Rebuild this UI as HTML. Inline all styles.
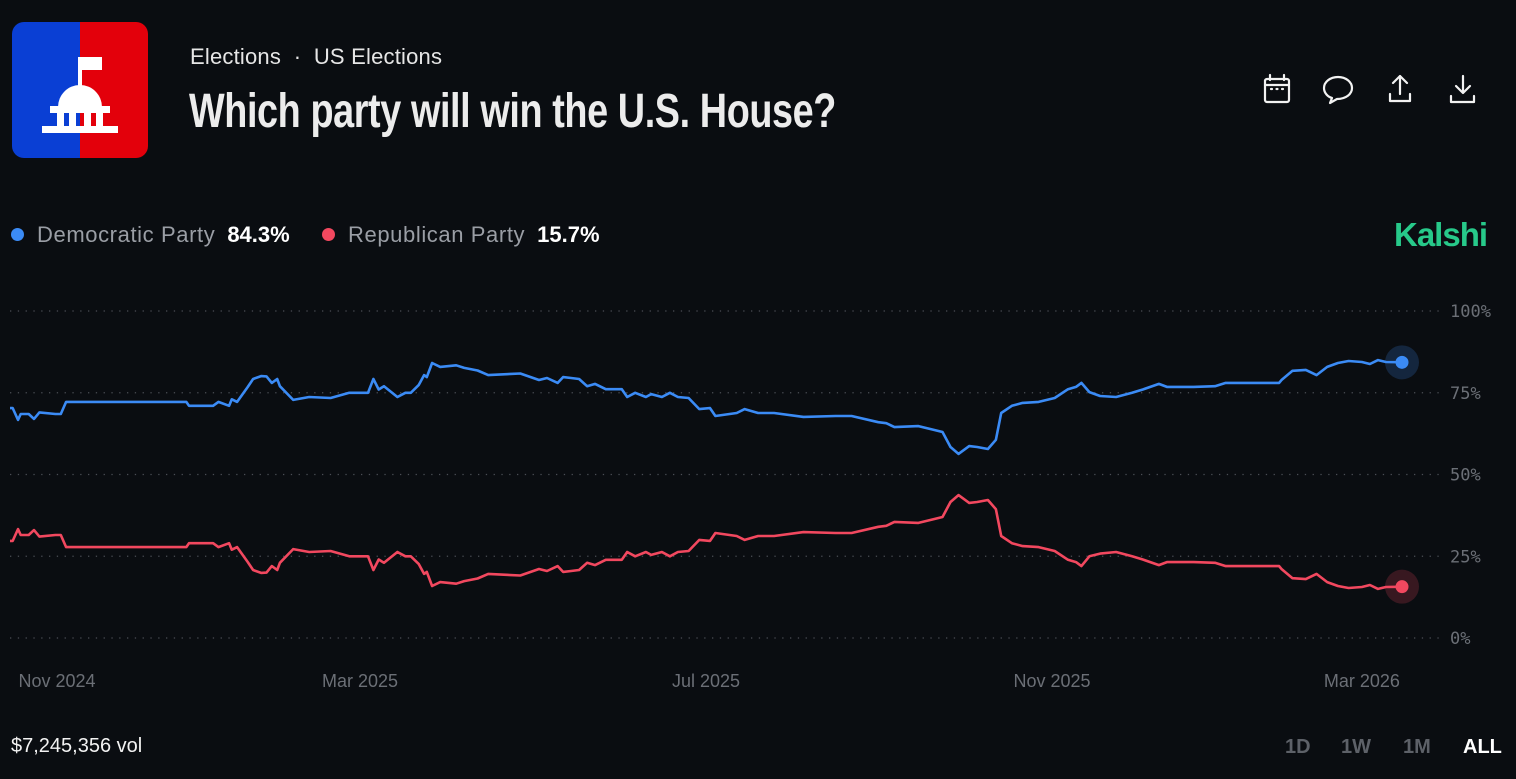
<!DOCTYPE html>
<html><head><meta charset="utf-8">
<style>
html,body{margin:0;padding:0;background:#0a0d11;width:1516px;height:779px;overflow:hidden;font-family:"Liberation Sans",sans-serif;}
.abs{position:absolute;}
#logo{left:12px;top:22px;width:136px;height:136px;border-radius:12px;overflow:hidden;background:linear-gradient(90deg,#0a3fd4 50%,#e3000b 50%);}
#crumb{left:190px;top:44px;font-size:22px;color:#e6e6e6;white-space:nowrap;letter-spacing:0.2px;}
#title{left:189px;top:84px;font-family:"Liberation Sans Narrow","Liberation Sans",sans-serif;font-weight:bold;font-size:48px;color:#ececec;white-space:nowrap;letter-spacing:-0.5px;transform:scaleX(0.787);transform-origin:0 0;}
.legend{top:222px;font-size:22px;color:#9a9ea5;white-space:nowrap;letter-spacing:0.6px;}
.legend b{color:#fff;margin-left:12px;letter-spacing:0;}
.dot{display:inline-block;width:13px;height:13px;border-radius:50%;margin-right:13px;vertical-align:1px;}
#kalshi{left:1394px;top:216px;font-size:33px;font-weight:bold;color:#27c98a;letter-spacing:-1px;}
#vol{left:11px;top:735px;font-size:20px;color:#f2f2f2;}
.rng{top:736px;font-size:20px;color:#5d6168;font-weight:bold;}
</style></head><body>
<div id="logo" class="abs">
<svg width="136" height="136" viewBox="0 0 136 136">
<rect x="68" y="35" width="22" height="13" fill="#fff"/>
<rect x="66" y="35" width="4" height="30" fill="#fff"/>
<path d="M46 85 A22 22 0 0 1 90 85 Z" fill="#fff"/>
<rect x="38" y="84" width="60" height="7" fill="#fff"/>
<rect x="45" y="90" width="7" height="15" fill="#fff"/>
<rect x="57" y="90" width="7" height="15" fill="#fff"/>
<rect x="72" y="90" width="7" height="15" fill="#fff"/>
<rect x="84" y="90" width="7" height="15" fill="#fff"/>
<rect x="30" y="104" width="76" height="7" fill="#fff"/>
</svg></div>
<div id="crumb" class="abs">Elections&nbsp; · &nbsp;US Elections</div>
<div id="title" class="abs">Which party will win the U.S. House?</div>

<svg class="abs" style="left:1260px;top:72px" width="220" height="36">
<g fill="none" stroke="#f2f2f2" stroke-width="2.2" stroke-linecap="round" stroke-linejoin="round">
<g><rect x="5" y="7" width="24" height="23" rx="2"/><line x1="10" y1="3" x2="10" y2="8"/><line x1="24" y1="3" x2="24" y2="8"/><line x1="5" y1="13" x2="29" y2="13"/><line x1="11" y1="17" x2="12" y2="17"/><line x1="16.5" y1="17" x2="17.5" y2="17"/><line x1="22" y1="17" x2="23" y2="17"/></g>
<g><path d="M78 5 C70 5 64 10 64 16 C64 21 68 25 72 26 L70 31 L77 27 C86 27 92 22 92 16 C92 10 86 5 78 5 Z"/></g>
<g><path d="M140 22 V4 M133 11 L140 4 L147 11 M130 22 V29 H150 V22"/></g>
<g><path d="M203 4 V20 M196 14 L203 21 L210 14 M191 24 V30 H214 V24"/></g>
</g></svg>

<div class="abs legend" style="left:11px"><span class="dot" style="background:#3b8bf5"></span>Democratic Party<b>84.3%</b></div>
<div class="abs legend" style="left:322px"><span class="dot" style="background:#f2485f"></span>Republican Party<b>15.7%</b></div>
<div id="kalshi" class="abs">Kalshi</div>

<svg id="chart" class="abs" style="left:0;top:280px" width="1516" height="420"></svg>

<div id="vol" class="abs">$7,245,356 vol</div>
<div class="abs rng" style="left:1285px">1D</div>
<div class="abs rng" style="left:1341px">1W</div>
<div class="abs rng" style="left:1403px">1M</div>
<div class="abs rng" style="left:1463px;color:#fff">ALL</div>

<script>
const days=[0,1,3,4,7,9,11,17,19,21,66,67,76,78,82,83,85,89,91,94,96,98,100,101,106,112,120,127,134,136,138,140,145,148,150,153,155,156,158,161,167,170,175,179,191,198,201,205,207,210,213,216,219,223,229,231,234,238,240,244,247,250,254,258,262,264,272,275,280,286,297,309,315,325,328,331,340,346,349,352,355,359,362,366,369,371,375,379,385,391,396,399,401,404,408,414,420,424,430,433,443,451,455,475,476,480,485,489,493,497,501,506,509,512,515,521];
const demValues=[70.3,70.3,66.7,68.5,68.5,67,69,68.5,68.5,72.2,72.2,71,71,72.2,71,73,72.2,76.8,79.2,80.1,80,78,79.2,77,72.8,73.7,73.4,75,75,79.2,76,77,73.7,75,75,77.4,80.4,79.8,84.1,82.9,83.4,82.6,81.8,80.4,80.9,78.9,79.5,78,79.8,79.5,79.2,77,77.7,76.1,76.1,73.7,75,73.7,74.6,73.7,75,73.7,73.4,70,70.3,67.9,68.8,70,68.8,68.8,67.6,67.9,67.9,66,65.7,64.5,64.8,63.6,63,58.4,56.3,58.7,58.4,57.8,60.6,68.8,71,71.9,72.2,73.4,76.1,76.8,78,75.2,74,73.7,75,76,77.7,76.8,76.8,77,78,78,79,81.7,82,80.4,82.9,84.1,84.7,84.4,83.8,85,84.4,84.3];
const repValues=[29.7,29.7,33.3,31.5,31.5,33,31,31.5,31.5,27.8,27.8,29,29,27.8,29,27,27.8,23.2,20.8,19.9,20,22,20.8,23,27.2,26.3,26.6,25,25,20.8,24,23,26.3,25,25,22.6,19.6,20.2,15.9,17.1,16.6,17.4,18.2,19.6,19.1,21.1,20.5,22,20.2,20.5,20.8,23,22.3,23.9,23.9,26.3,25,26.3,25.4,26.3,25,26.3,26.6,30,29.7,32.1,31.2,30,31.2,31.2,32.4,32.1,32.1,34,34.3,35.5,35.2,36.4,37,41.6,43.7,41.3,41.6,42.2,39.4,31.2,29,28.1,27.8,26.6,23.9,23.2,22,25,25.8,26.3,25,24,22.3,23.2,23.2,23,22,22,21,18.3,18,19.6,17.1,15.9,15.3,15.6,16.2,15,15.6,15.7];
const yTicks=[100,75,50,25,0];
const yTickLabels=["100%","75%","50%","25%","0%"];
const xTickDays=[17.6,131,260.5,390,506];
const xTickLabels=["Nov 2024","Mar 2025","Jul 2025","Nov 2025","Mar 2026"];

const svg=document.getElementById('chart');
const NS='http://www.w3.org/2000/svg';
const X0=10,X1=1402,DMAX=521,TOP=31,BOT=358;
const xs=d=>X0+(d/DMAX)*(X1-X0);
const ys=v=>BOT-(v/100)*(BOT-TOP);
function mk(t,a){const e=document.createElementNS(NS,t);for(const k in a)e.setAttribute(k,a[k]);svg.appendChild(e);return e;}
yTicks.forEach((v,i)=>{
  const l=mk('line',{x1:10,x2:1440,y1:ys(v),y2:ys(v),stroke:'#4a4e55','stroke-width':1.3,'stroke-dasharray':'1.3 6.5'});
  
  
  const t=mk('text',{x:1450,y:ys(v)+6,fill:'#6b6f76','font-size':17,'font-family':'"DejaVu Sans Mono","Liberation Mono",monospace'});
  t.textContent=yTickLabels[i];
  
  
});
xTickDays.forEach((d,i)=>{
  const t=mk('text',{x:xs(d),y:407,fill:'#6b6f76','font-size':18,'text-anchor':'middle','font-family':'"Liberation Sans",sans-serif'});
  t.textContent=xTickLabels[i];
  
  
});
function series(vals,color,name){
  const d=vals.map((v,i)=>(i?'L':'M')+xs(days[i]).toFixed(1)+' '+ys(v).toFixed(1)).join(' ');
  const p=mk('path',{d:d,fill:'none',stroke:color,'stroke-width':2.6,'stroke-linejoin':'round'});
  
  
  const n=vals.length-1;
  const h=mk('circle',{cx:xs(days[n]),cy:ys(vals[n]),r:17,fill:color,'fill-opacity':0.2});
  
  
  const c=mk('circle',{cx:xs(days[n]),cy:ys(vals[n]),r:6.5,fill:color});
  
  
}
series(demValues,'#3b8bf5','democratic');
series(repValues,'#f2485f','republican');
</script>
</body></html>
